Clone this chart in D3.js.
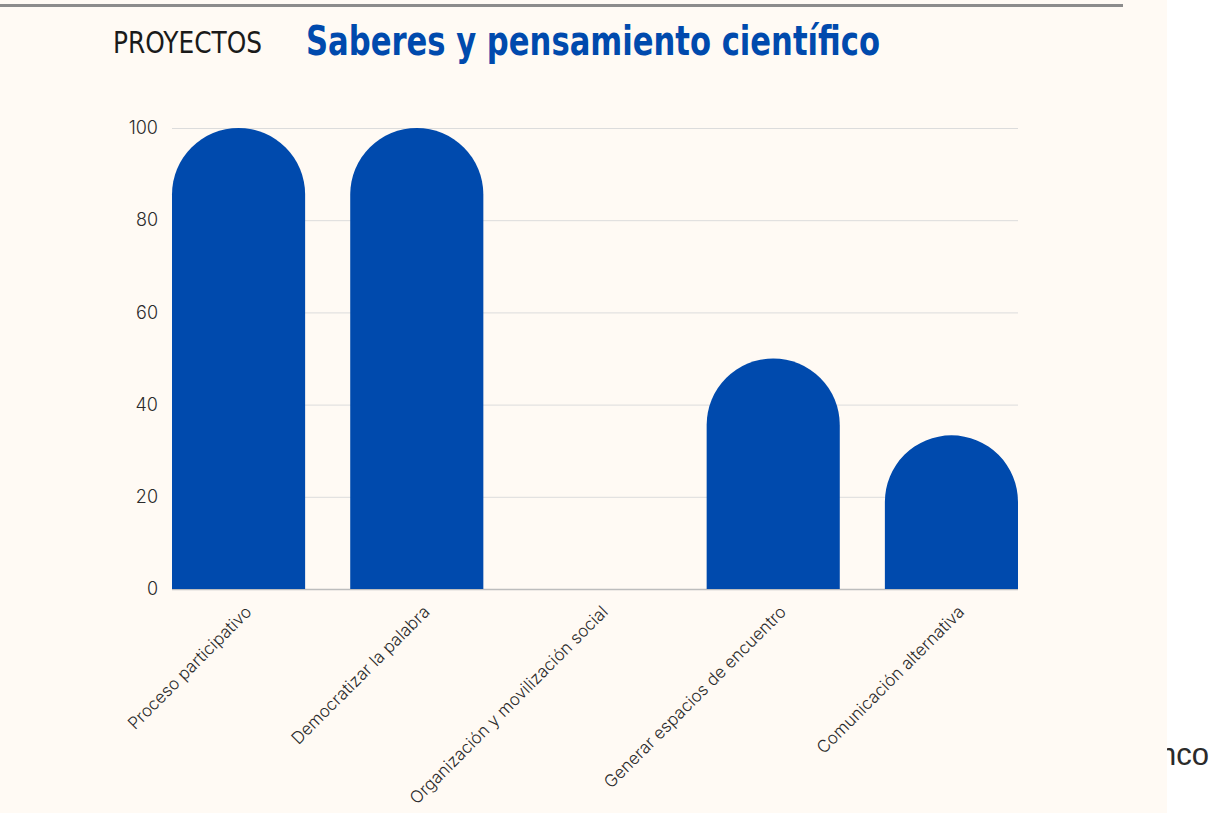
<!DOCTYPE html>
<html>
<head>
<meta charset="utf-8">
<script src="https://cdn.jsdelivr.net/npm/d3@7"></script>
<style>
  html, body { margin: 0; padding: 0; background: #ffffff; }
  svg { display: block; }
</style>
</head>
<body>
<svg id="chart" width="1219" height="813"></svg>
<script>
const categories = [
  "Proceso participativo",
  "Democratizar la palabra",
  "Organización y movilización social",
  "Generar espacios de encuentro",
  "Comunicación alternativa"
];
const values = [100, 100, 0, 50, 33.33];
const yTicks = [0, 20, 40, 60, 80, 100];
const kicker = "PROYECTOS";
const title = "Saberes y pensamiento científico";
const sideText = "nco";

const svg = d3.select("#chart");
const W = 1219, H = 813;
const blue = "#004aad";

// overflowing text behind panel
svg.append("text")
  .attr("x", 1209).attr("y", 765)
  .attr("text-anchor", "end")
  .attr("font-family", "'Liberation Sans', Arial, sans-serif")
  .attr("font-weight", 400)
  .attr("font-size", 31)
  .attr("fill", "#2b2b2b")
  .text(sideText);

// cream panel
svg.append("rect")
  .attr("x", 0).attr("y", 0)
  .attr("width", 1167).attr("height", H)
  .attr("fill", "#fffaf4");

// top rule
svg.append("line")
  .attr("x1", 0).attr("x2", 1123)
  .attr("y1", 5.5).attr("y2", 5.5)
  .attr("stroke", "#8c8c8c").attr("stroke-width", 3);

// headings
svg.append("text")
  .attr("x", 113).attr("y", 53)
  .attr("font-family", "'Liberation Sans Narrow', 'DejaVu Sans Condensed', sans-serif")
  .attr("font-size", 30)
  .attr("fill", "#1a1a1a")
  .attr("textLength", 149).attr("lengthAdjust", "spacingAndGlyphs")
  .text(kicker);

svg.append("text")
  .attr("x", 306).attr("y", 55)
  .attr("font-family", "'Liberation Sans Narrow', 'DejaVu Sans Condensed', sans-serif")
  .attr("font-weight", "bold")
  .attr("font-size", 40)
  .attr("fill", blue)
  .attr("textLength", 574).attr("lengthAdjust", "spacingAndGlyphs")
  .text(title);

// scales
const x = d3.scaleBand()
  .domain(categories)
  .range([172, 1018])
  .paddingInner(0.253)
  .paddingOuter(0);

const y = d3.scaleLinear()
  .domain([0, 100])
  .range([589, 128]);

// gridlines
const grid = svg.append("g")
  .attr("transform", "translate(172,0)")
  .call(d3.axisLeft(y).tickValues(yTicks).tickSize(-(1018 - 172)).tickFormat(""));
grid.select(".domain").remove();
grid.selectAll(".tick line")
  .attr("stroke", d => d === 0 ? "#bdbdbd" : "#dcdcdc")
  .attr("stroke-width", d => d === 0 ? 1.5 : 1);

// y tick labels
const yAxis = svg.append("g")
  .attr("transform", "translate(158,0)")
  .call(d3.axisLeft(y).tickValues(yTicks).tickSize(0).tickPadding(0));
yAxis.select(".domain").remove();
yAxis.selectAll("text")
  .attr("font-family", "Inter, Roboto, sans-serif")
  .attr("font-weight", 300)
  .attr("font-size", 18)
  .attr("fill", "#2b2b2b");

// bars with rounded tops
function barPath(d, i) {
  const x0 = x(categories[i]);
  const x1 = x0 + x.bandwidth();
  const yb = y(0);
  const yt = y(d);
  const h = yb - yt;
  if (h <= 0) return null;
  const r = Math.min(x.bandwidth() / 2, h);
  return `M${x0},${yb}L${x0},${yt + r}A${x.bandwidth() / 2},${r} 0 0 1 ${x1},${yt + r}L${x1},${yb}Z`;
}
svg.append("g")
  .selectAll("path")
  .data(values)
  .join("path")
  .attr("d", barPath)
  .attr("fill", blue);

// x labels rotated
svg.append("g")
  .selectAll("text")
  .data(categories)
  .join("text")
  .attr("transform", d => `translate(${x(d) + x.bandwidth() / 2 + 14},${y(0) + 24}) rotate(-45)`)
  .attr("text-anchor", "end")
  .attr("font-family", "Inter, Roboto, sans-serif")
  .attr("font-weight", 300)
  .attr("font-size", 17)
  .attr("fill", "#2b2b2b")
  .text(d => d);
</script>
</body>
</html>
